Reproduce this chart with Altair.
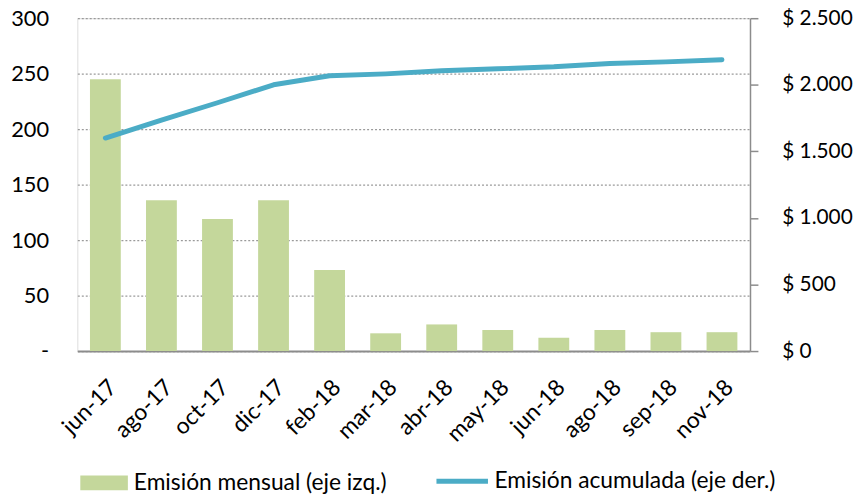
import altair as alt
import pandas as pd

months = ["jun-17", "ago-17", "oct-17", "dic-17", "feb-18", "mar-18",
          "abr-18", "may-18", "jun-18", "ago-18", "sep-18", "nov-18"]
mensual = [245, 136, 119, 136, 73, 16, 24, 19, 12, 19, 17, 17]
acumulada = [1600, 1735, 1865, 2000, 2068, 2082, 2105, 2120, 2135, 2160, 2172, 2188]

s_m = "Emisión mensual (eje izq.)"
s_a = "Emisión acumulada (eje der.)"

df = pd.DataFrame({
    "mes": months,
    "mensual": mensual,
    "acumulada": acumulada,
    "serie_m": [s_m] * len(months),
    "serie_a": [s_a] * len(months),
})

FONT = "Lato"
GRAY = "#8c8c8c"

base = alt.Chart(df).encode(
    x=alt.X(
        "mes:N",
        sort=months,
        scale=alt.Scale(paddingInner=0.45, paddingOuter=0.225),
        axis=alt.Axis(
            title=None, labelAngle=-45, ticks=False, grid=False,
            domainColor=GRAY, domainWidth=2, labelFontSize=23,
            labelPadding=25, labelColor="#000000",
        ),
    )
)

bars = base.mark_bar(strokeWidth=0).encode(
    y=alt.Y(
        "mensual:Q",
        scale=alt.Scale(domain=[0, 300], nice=False),
        axis=alt.Axis(
            title=None, values=[0, 50, 100, 150, 200, 250, 300],
            labelExpr="datum.value == 0 ? '-\u00a0\u00a0\u00a0' : datum.label",
            grid=True, gridDash=[2, 2], gridColor="#9a9a9a", gridWidth=1.2,
            domain=True, domainColor="#ffffff", domainOpacity=0, domainWidth=0.01,
            ticks=False, tickSize=0,
            labelPadding=29, labelFontSize=22, labelColor="#000000",
        ),
    ),
    fill=alt.Fill(
        "serie_m:N",
        scale=alt.Scale(domain=[s_m], range=["#c4d79b"]),
        legend=alt.Legend(
            orient="none", legendX=3, legendY=445, title=None,
            symbolType="M-1,-0.31H1V0.31H-1Z", symbolSize=2304,
            symbolStrokeWidth=0, labelFontSize=23, labelOffset=6,
            labelLimit=0, padding=0, labelColor="#000000", labelFont=FONT,
        ),
    ),
)

line = base.mark_line(strokeWidth=5, strokeCap="round", strokeJoin="round").encode(
    y=alt.Y(
        "acumulada:Q",
        scale=alt.Scale(domain=[0, 2500], nice=False),
        axis=alt.Axis(
            title=None, orient="right",
            values=[0, 500, 1000, 1500, 2000, 2500],
            labelExpr="'$ ' + replace(format(datum.value, ','), ',', '.')",
            grid=False, domainColor=GRAY, domainWidth=1.5, tickColor=GRAY,
            tickSize=8, tickWidth=1.5, labelPadding=24, labelFontSize=21,
            labelColor="#000000",
        ),
    ),
    stroke=alt.Stroke(
        "serie_a:N",
        scale=alt.Scale(domain=[s_a], range=["#4bacc6"]),
        legend=alt.Legend(
            orient="none", legendX=360, legendY=439, title=None,
            symbolType="stroke", symbolSize=2704, symbolStrokeWidth=5,
            labelFontSize=23, labelOffset=4, labelLimit=0, padding=0,
            labelColor="#000000", labelFont=FONT,
        ),
    ),
)

chart = (
    alt.layer(bars, line)
    .resolve_scale(y="independent")
    .properties(
        width=679, height=336,
        autosize=alt.AutoSizeParams(type="none"),
        padding={"left": 70, "top": 8, "right": 107, "bottom": 143},
    )
    .configure_view(strokeWidth=0, stroke="transparent")
    .configure(font=FONT)
)

chart.save("out.html", embed_options={"renderer": "svg", "actions": False})
